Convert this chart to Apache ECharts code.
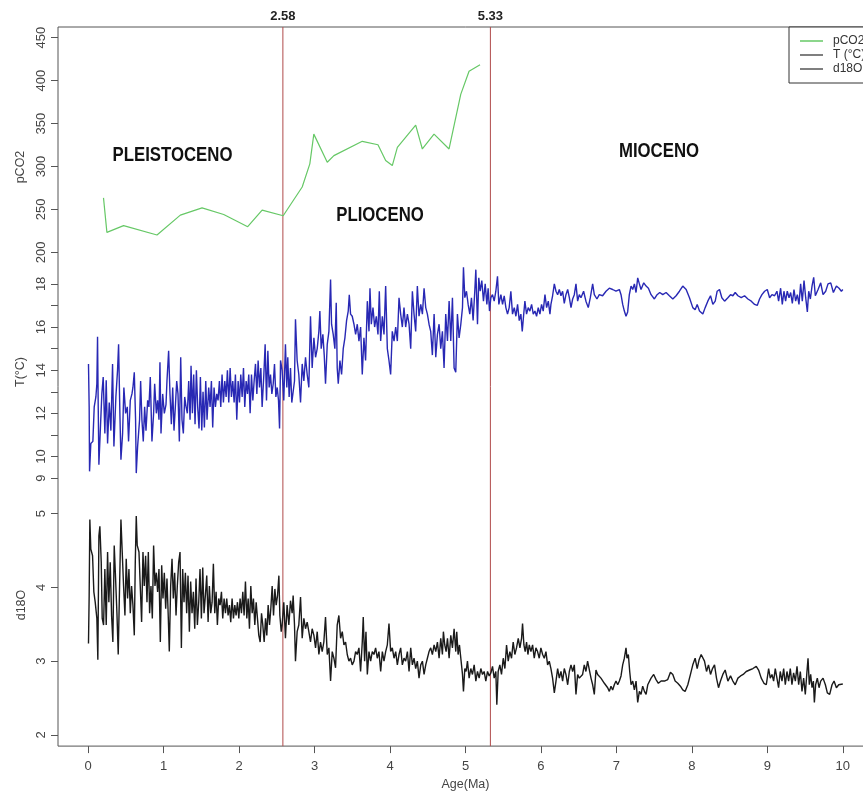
<!DOCTYPE html>
<html><head><meta charset="utf-8">
<script src="https://cdn.jsdelivr.net/npm/echarts@6/dist/echarts.min.js"></script>
<style>html,body{margin:0;padding:0;background:#fff;overflow:hidden;width:863px;height:796px}#c{width:873px;height:796px}</style>
</head><body><div id="c"></div>
<script>
// ---- data (age in Ma, value) ----
const pco2Data = [[0.203,263.5],[0.248,223.4],[0.469,231.2],[0.912,220.3],[1.221,243.4],[1.509,251.9],[1.796,244.2],[2.114,230.0],[2.305,249.2],[2.584,242.7],[2.836,276.2],[2.937,303.1],[2.990,337.7],[3.168,305.0],[3.256,312.7],[3.632,329.3],[3.840,325.3],[3.942,306.9],[4.030,301.1],[4.097,322.3],[4.340,348.1],[4.428,320.4],[4.583,337.7],[4.782,320.4],[4.937,383.9],[5.047,410.8],[5.193,418.5]];

const tempData = [[0.004,14.29],[0.013,12.3],[0.018,9.31],[0.035,10.6],[0.062,10.7],[0.080,12.3],[0.102,12.76],[0.115,13.37],[0.124,15.55],[0.133,12.3],[0.142,9.62],[0.159,11.07],[0.181,12.9],[0.199,13.68],[0.221,11.07],[0.239,13.53],[0.257,10.6],[0.279,12.5],[0.301,11.2],[0.323,14.29],[0.341,10.46],[0.367,12.76],[0.389,13.99],[0.403,15.2],[0.420,12.0],[0.434,9.85],[0.456,11.07],[0.473,13.2],[0.496,12.0],[0.518,12.3],[0.535,10.7],[0.558,12.6],[0.580,12.9],[0.593,13.2],[0.611,13.9],[0.628,11.7],[0.637,9.23],[0.655,10.46],[0.681,11.7],[0.695,13.5],[0.712,11.7],[0.730,10.7],[0.748,12.3],[0.766,11.2],[0.788,12.6],[0.805,12.3],[0.823,13.68],[0.845,10.7],[0.867,12.0],[0.881,13.37],[0.903,12.0],[0.920,12.6],[0.938,11.7],[0.951,14.37],[0.965,11.07],[0.987,12.9],[1.009,12.0],[1.031,12.4],[1.044,13.5],[1.066,14.9],[1.084,12.9],[1.102,11.5],[1.120,13.2],[1.137,11.2],[1.155,12.3],[1.173,13.5],[1.190,12.9],[1.208,10.7],[1.226,14.6],[1.243,11.7],[1.261,11.07],[1.279,12.76],[1.297,12.3],[1.314,12.0],[1.332,13.5],[1.350,11.7],[1.363,14.2],[1.381,12.0],[1.398,13.8],[1.416,11.5],[1.434,14.0],[1.451,12.3],[1.469,11.3],[1.487,13.68],[1.505,11.2],[1.522,13.0],[1.540,11.35],[1.558,13.5],[1.575,11.7],[1.597,13.2],[1.615,12.3],[1.633,13.5],[1.650,11.35],[1.668,13.2],[1.686,12.3],[1.704,12.9],[1.721,12.6],[1.739,13.5],[1.757,12.3],[1.774,13.8],[1.792,12.5],[1.810,13.5],[1.828,12.76],[1.845,14.0],[1.863,12.5],[1.881,14.1],[1.898,12.76],[1.916,13.5],[1.934,12.5],[1.951,13.8],[1.969,11.7],[1.987,13.5],[2.005,12.5],[2.022,13.8],[2.040,12.76],[2.058,14.1],[2.075,12.3],[2.093,13.5],[2.111,12.9],[2.128,13.8],[2.146,12.0],[2.164,13.8],[2.182,12.6],[2.199,13.5],[2.217,14.29],[2.235,12.9],[2.252,14.45],[2.270,13.2],[2.288,14.1],[2.305,12.3],[2.328,13.8],[2.345,15.2],[2.363,12.6],[2.381,14.9],[2.398,13.2],[2.416,13.8],[2.434,12.9],[2.452,13.37],[2.469,14.29],[2.487,12.76],[2.505,13.2],[2.522,12.6],[2.536,11.3],[2.549,14.45],
[2.570,13.99],[2.592,12.6],[2.614,15.2],[2.632,13.2],[2.645,14.6],[2.663,12.76],[2.681,14.1],[2.698,12.5],[2.716,13.0],[2.734,13.5],[2.747,16.36],[2.769,14.45],[2.791,13.8],[2.814,12.5],[2.836,14.29],[2.858,13.5],[2.880,14.6],[2.902,13.8],[2.924,13.2],[2.946,16.5],[2.968,14.1],[2.991,15.5],[3.013,14.6],[3.035,15.0],[3.057,15.8],[3.070,16.74],[3.088,15.0],[3.110,15.66],[3.128,14.7],[3.145,13.37],[3.168,15.2],[3.190,15.8],[3.212,18.2],[3.225,16.13],[3.247,15.66],[3.269,15.0],[3.287,17.13],[3.300,14.1],[3.314,13.37],[3.336,14.45],[3.358,13.8],[3.380,15.0],[3.402,15.5],[3.424,16.3],[3.446,16.74],[3.460,17.5],[3.477,16.6],[3.499,16.5],[3.522,16.13],[3.544,15.66],[3.566,16.13],[3.588,15.35],[3.610,16.0],[3.632,13.8],[3.654,15.5],[3.676,14.45],[3.699,17.2],[3.721,15.8],[3.734,17.8],[3.752,16.13],[3.774,16.9],[3.796,16.0],[3.818,16.5],[3.840,15.66],[3.858,17.66],[3.876,15.35],[3.898,16.5],[3.920,15.66],[3.942,17.9],[3.964,15.0],[3.986,14.45],[4.008,13.8],[4.030,15.8],[4.053,15.35],[4.075,16.0],[4.097,15.35],[4.119,17.36],[4.141,16.6],[4.163,16.0],[4.185,16.9],[4.207,16.0],[4.230,16.6],[4.252,16.13],[4.274,15.0],[4.296,17.66],[4.318,16.6],[4.340,15.8],[4.362,17.9],[4.384,16.5],[4.407,17.05],[4.429,16.6],[4.451,17.8],[4.473,16.9],[4.495,16.6],[4.517,16.13],[4.539,15.8],[4.561,14.7],[4.584,16.6],[4.606,14.6],[4.628,15.66],[4.650,16.13],[4.672,15.0],[4.694,15.8],[4.716,14.1],[4.738,16.6],[4.761,15.35],[4.783,17.2],[4.805,15.35],[4.827,17.36],[4.849,14.1],[4.871,13.9],[4.893,16.6],[4.915,15.5],[4.938,16.13],[4.960,16.9],[4.973,18.77],[4.991,17.36],[5.013,17.66],[5.035,17.05],[5.057,16.6],[5.079,17.36],[5.101,16.3],[5.123,17.66],[5.137,18.66],[5.159,16.13],[5.176,18.28],[5.194,17.66],[5.216,18.15],[5.238,17.2],[5.261,18.0],[5.283,17.05],[5.300,17.8],[5.318,16.74],[5.336,17.36],[5.358,17.5],[5.380,17.2],[5.402,17.66],[5.424,18.35],[5.442,17.05],[5.469,17.5],[5.491,17.05],[5.513,17.45],[5.535,16.9],[5.557,16.6],[5.579,16.9],[5.601,17.66],[5.623,16.6],[5.646,16.9],[5.668,16.5],[5.690,17.05],[5.712,16.3],[5.734,16.6],[5.752,15.8],[5.769,16.5],[5.787,17.2],[5.809,16.6],[5.831,16.9],[5.853,16.74],[5.876,17.05],[5.898,16.6],[5.920,16.74],[5.942,16.5],[5.964,16.9],[5.986,16.6],[6.008,17.05],[6.030,16.74],[6.053,17.5],[6.075,16.9],[6.097,17.2],[6.119,16.6],[6.132,17.05],[6.154,17.45],[6.177,18.0],[6.199,17.66],[6.221,17.5],[6.243,17.74],[6.265,17.45],[6.287,17.66],[6.309,17.1],[6.331,17.5],[6.354,17.74],[6.376,17.36],[6.398,16.9],[6.420,17.3],[6.442,17.5],[6.464,18.0],[6.486,17.2],[6.508,17.5],
[6.530,17.36],[6.565,17.66],[6.596,17.2],[6.627,16.9],[6.654,17.36],[6.685,18.0],[6.707,17.5],[6.742,17.3],[6.773,17.5],[6.817,17.45],[6.862,17.66],[6.906,17.8],[6.950,17.74],[6.994,17.66],[7.039,17.74],[7.061,17.5],[7.083,17.05],[7.105,16.74],[7.127,16.5],[7.149,16.7],[7.171,17.5],[7.194,17.9],[7.216,17.74],[7.238,18.0],[7.260,17.6],[7.282,18.28],[7.304,18.0],[7.326,17.74],[7.362,18.05],[7.393,17.9],[7.424,17.8],[7.459,17.5],[7.503,17.3],[7.539,17.5],[7.574,17.6],[7.614,17.5],[7.658,17.6],[7.702,17.45],[7.747,17.3],[7.791,17.45],[7.835,17.66],[7.879,17.9],[7.924,17.74],[7.968,17.36],[8.012,16.9],[8.043,16.8],[8.070,17.05],[8.101,16.74],[8.145,16.6],[8.176,16.9],[8.211,17.2],[8.247,17.45],[8.278,17.05],[8.309,17.2],[8.335,17.66],[8.366,17.74],[8.397,17.36],[8.433,17.2],[8.477,17.36],[8.512,17.5],[8.543,17.45],[8.574,17.6],[8.610,17.45],[8.654,17.36],[8.698,17.45],[8.742,17.3],[8.787,17.2],[8.831,17.05],[8.866,17.0],[8.897,17.3],[8.928,17.5],[8.964,17.66],[8.999,17.74],[9.030,17.36],[9.061,17.5],[9.096,17.45],[9.127,17.66],[9.149,17.2],[9.176,17.8],[9.198,17.05],[9.220,17.66],[9.242,17.2],[9.264,17.66],[9.287,17.36],[9.309,17.6],[9.331,17.1],[9.353,17.74],[9.375,17.2],[9.397,17.5],[9.419,17.05],[9.441,18.0],[9.463,17.2],[9.486,18.15],[9.508,17.36],[9.530,16.7],[9.548,17.66],[9.570,17.3],[9.592,17.9],[9.614,18.3],[9.636,17.45],[9.672,17.74],[9.707,18.05],[9.738,17.5],[9.773,17.66],[9.804,18.0],[9.840,18.05],[9.875,17.6],[9.915,17.9],[9.950,17.8],[9.981,17.66],[10.0,17.74]];

const d18oData = [[0.004,3.24],[0.013,3.89],[0.022,4.92],[0.035,4.52],[0.058,4.43],[0.075,3.94],[0.093,3.8],[0.115,3.58],[0.128,3.02],[0.142,4.7],[0.155,4.83],[0.173,4.34],[0.186,3.58],[0.204,3.49],[0.221,4.25],[0.239,3.49],[0.257,4.48],[0.274,3.8],[0.292,4.34],[0.310,3.62],[0.327,3.26],[0.345,4.57],[0.363,4.12],[0.381,3.65],[0.398,3.09],[0.416,4.02],[0.434,4.92],[0.451,4.48],[0.469,4.02],[0.487,3.62],[0.504,4.39],[0.522,3.85],[0.540,4.25],[0.558,3.65],[0.575,4.02],[0.593,3.76],[0.611,3.35],[0.624,4.34],[0.637,4.97],[0.650,4.57],[0.673,4.48],[0.690,4.02],[0.708,3.53],[0.726,4.48],[0.743,4.02],[0.761,4.43],[0.779,3.8],[0.797,4.48],[0.814,3.65],[0.832,4.02],[0.850,3.58],[0.867,4.57],[0.885,4.02],[0.903,4.2],[0.920,3.94],[0.938,4.25],[0.956,3.26],[0.974,4.3],[0.991,3.85],[1.009,4.2],[1.027,3.71],[1.044,4.12],[1.062,3.58],[1.075,3.13],[1.093,4.02],[1.111,4.39],[1.128,3.85],[1.146,4.2],[1.164,3.62],[1.181,4.02],[1.199,4.34],[1.217,4.48],[1.235,3.18],[1.252,4.25],[1.270,3.8],[1.288,4.2],[1.305,3.65],[1.323,4.16],[1.341,3.4],[1.358,4.08],[1.376,3.65],[1.394,3.94],[1.412,3.44],[1.429,4.12],[1.447,3.49],[1.465,3.8],[1.482,4.25],[1.500,3.58],[1.518,4.27],[1.535,3.65],[1.553,3.89],[1.571,4.16],[1.589,3.53],[1.606,4.02],[1.624,3.65],[1.642,3.8],[1.659,4.32],[1.677,3.65],[1.695,3.94],[1.712,3.49],[1.730,3.85],[1.748,3.76],[1.766,3.94],[1.783,3.58],[1.801,3.85],[1.819,3.65],[1.836,3.85],[1.854,3.62],[1.872,3.76],[1.889,3.53],[1.907,3.85],[1.925,3.58],[1.943,3.76],[1.960,3.62],[1.978,3.8],[1.996,3.58],[2.013,3.85],[2.031,3.65],[2.049,3.94],[2.066,3.62],[2.084,4.08],[2.102,3.58],[2.120,3.85],[2.137,3.44],[2.155,4.02],[2.173,3.65],[2.190,3.85],[2.208,3.49],[2.226,3.8],[2.243,3.58],[2.261,3.35],[2.279,3.26],[2.297,3.65],[2.314,3.49],[2.332,3.26],[2.350,3.58],[2.367,3.35],[2.385,3.76],[2.403,3.49],[2.420,3.71],[2.438,4.02],[2.456,3.62],[2.474,3.98],[2.491,3.76],[2.509,3.89],[2.527,4.16],[2.540,3.62],[2.558,3.4],
[2.570,3.49],[2.592,3.8],[2.614,3.31],[2.636,3.76],[2.659,3.49],[2.681,3.82],[2.703,3.65],[2.716,3.89],[2.734,3.49],[2.747,3.0],[2.769,3.4],[2.791,3.49],[2.814,3.87],[2.836,3.31],[2.858,3.58],[2.880,3.44],[2.902,3.53],[2.924,3.4],[2.946,3.26],[2.968,3.44],[2.991,3.35],[3.013,3.18],[3.035,3.4],[3.057,3.09],[3.079,3.26],[3.101,3.13],[3.123,3.26],[3.145,3.6],[3.168,3.09],[3.190,3.18],[3.212,2.73],[3.234,3.13],[3.256,3.04],[3.278,2.91],[3.300,3.49],[3.322,3.62],[3.345,3.31],[3.367,3.4],[3.389,3.22],[3.411,3.26],[3.433,3.09],[3.455,3.0],[3.477,3.04],[3.499,2.95],[3.522,3.0],[3.544,3.13],[3.566,3.09],[3.588,3.18],[3.610,2.86],[3.632,3.26],[3.645,3.6],[3.663,3.0],[3.681,3.4],[3.699,2.82],[3.721,3.13],[3.743,3.0],[3.765,3.13],[3.787,3.09],[3.809,3.18],[3.831,3.04],[3.853,3.13],[3.876,2.86],[3.898,3.13],[3.920,3.0],[3.942,3.13],[3.964,3.22],[3.986,3.51],[4.008,3.13],[4.030,3.18],[4.053,3.04],[4.075,3.13],[4.097,2.95],[4.119,3.09],[4.141,3.18],[4.163,2.95],[4.185,3.04],[4.207,3.0],[4.230,3.13],[4.252,2.86],[4.274,3.18],[4.296,2.95],[4.318,3.04],[4.340,2.9],[4.362,3.0],[4.384,2.77],[4.407,2.95],[4.429,3.0],[4.451,2.82],[4.473,2.95],[4.495,3.04],[4.517,3.13],[4.539,3.18],[4.561,3.09],[4.584,3.22],[4.606,3.13],[4.628,3.26],[4.650,3.04],[4.672,3.31],[4.694,3.09],[4.707,3.4],[4.725,3.22],[4.743,3.13],[4.761,3.31],[4.783,3.04],[4.805,3.35],[4.827,3.18],[4.849,3.44],[4.871,3.13],[4.884,3.4],[4.902,3.09],[4.920,3.22],[4.938,3.04],[4.960,2.82],[4.973,2.59],[4.991,2.9],[5.008,2.86],[5.026,3.0],[5.048,2.77],[5.070,2.9],[5.092,2.82],[5.115,2.95],[5.137,2.73],[5.159,2.86],[5.181,2.77],[5.203,2.9],[5.225,2.82],[5.247,2.86],[5.269,2.73],[5.292,2.86],[5.314,2.8],[5.336,2.84],[5.358,2.93],[5.380,2.77],[5.402,2.86],[5.415,2.41],[5.433,2.86],[5.455,2.95],[5.477,2.82],[5.500,3.04],[5.522,2.9],[5.544,3.22],[5.566,3.0],[5.588,3.13],[5.610,3.04],[5.632,3.26],[5.654,3.09],[5.676,3.18],[5.699,3.31],[5.721,3.18],[5.743,3.31],[5.756,3.51],[5.774,3.22],[5.791,3.13],[5.809,3.26],[5.827,3.09],[5.845,3.22],[5.867,3.13],[5.889,3.22],[5.911,3.04],[5.933,3.18],[5.955,3.13],[5.977,3.04],[5.999,3.18],[6.022,3.09],[6.044,3.04],[6.066,3.13],[6.088,2.95],[6.110,3.0],[6.132,2.9],[6.154,2.77],[6.177,2.57],[6.199,2.73],[6.221,2.9],[6.243,2.77],[6.265,2.86],[6.287,2.73],[6.309,2.9],[6.331,2.82],[6.354,2.68],[6.376,2.86],[6.398,2.95],[6.420,2.86],[6.442,2.95],[6.464,2.55],[6.486,2.82],[6.508,2.77],
[6.552,2.82],[6.574,2.95],[6.596,2.86],[6.618,3.0],[6.640,3.02],[6.663,2.77],[6.685,2.68],[6.707,2.55],[6.729,2.88],[6.751,2.82],[6.773,2.8],[6.795,2.77],[6.817,2.75],[6.840,2.7],[6.862,2.68],[6.884,2.64],[6.906,2.59],[6.928,2.66],[6.950,2.61],[6.972,2.68],[6.994,2.73],[7.017,2.68],[7.039,2.73],[7.061,2.8],[7.083,2.95],[7.105,3.04],[7.127,3.18],[7.140,3.04],[7.158,3.09],[7.176,2.86],[7.194,2.68],[7.216,2.73],[7.238,2.61],[7.260,2.73],[7.282,2.44],[7.304,2.59],[7.326,2.55],[7.348,2.66],[7.371,2.59],[7.393,2.55],[7.415,2.68],[7.459,2.77],[7.494,2.82],[7.525,2.75],[7.556,2.7],[7.592,2.73],[7.636,2.73],[7.680,2.75],[7.716,2.85],[7.747,2.82],[7.778,2.73],[7.813,2.7],[7.848,2.66],[7.879,2.61],[7.910,2.59],[7.946,2.68],[7.981,2.82],[8.012,2.95],[8.043,3.04],[8.070,2.9],[8.096,3.02],[8.123,3.09],[8.145,3.11],[8.167,3.0],[8.194,2.86],[8.220,2.95],[8.247,2.82],[8.273,2.9],[8.300,2.95],[8.326,2.77],[8.353,2.64],[8.379,2.73],[8.410,2.82],[8.441,2.88],[8.477,2.73],[8.512,2.8],[8.543,2.73],[8.574,2.68],[8.610,2.77],[8.645,2.8],[8.680,2.82],[8.720,2.86],[8.764,2.88],[8.809,2.9],[8.853,2.93],[8.884,2.88],[8.919,2.77],[8.955,2.7],[8.986,2.68],[9.017,2.9],[9.039,2.77],[9.061,2.82],[9.083,2.73],[9.105,2.9],[9.127,2.77],[9.149,2.64],[9.171,2.86],[9.194,2.73],[9.216,2.9],[9.238,2.68],[9.260,2.86],[9.282,2.73],[9.304,2.9],[9.326,2.68],[9.348,2.84],[9.371,2.73],[9.393,2.93],[9.415,2.68],[9.437,2.86],[9.459,2.59],[9.481,2.77],[9.503,2.55],[9.525,2.86],[9.539,3.04],[9.556,2.68],[9.574,2.82],[9.592,2.64],[9.610,2.73],[9.623,2.44],[9.640,2.68],[9.662,2.77],[9.685,2.64],[9.707,2.73],[9.738,2.77],[9.769,2.68],[9.795,2.57],[9.826,2.55],[9.857,2.68],[9.884,2.73],[9.915,2.64],[9.946,2.68],[9.972,2.66],[10.0,2.69]];

const boundaries = [2.58, 5.33];
const xTicks = [0,1,2,3,4,5,6,7,8,9,10];
const pco2Ticks = [200,250,300,350,400,450];
const tempTicks = [9,10,11,12,13,14,15,16,17,18];
const tempLabels = [9,10,12,14,16,18];
const d18oTicks = [2,3,4,5];
const eraNames = ['PLEISTOCENO','PLIOCENO','MIOCENO'];
const seriesNames = ['pCO2','T (°C)','d18O'];
const axisTitles = ['pCO2','T(°C)','d18O'];

// ---- styling ----
const FONT = '"Liberation Sans", Arial, sans-serif';
const AXC = '#555';
const LBL = '#444';
const C_PCO2 = '#66c866';
const C_T = '#2828b4';
const C_D = '#1a1a1a';
const C_RED = '#b04a4a';

function yAx(min, max, ticks, labels) {
  return {
    type: 'value', position: 'left', offset: 0, min: min, max: max,
    axisLine: {show: false, onZero: false}, splitLine: {show: false},
    axisTick: {show: true, length: 7, customValues: ticks, lineStyle: {color: AXC}},
    axisLabel: {show: true, customValues: labels, rotate: 90, margin: 10,
      fontSize: 13, color: LBL, fontFamily: FONT}
  };
}

const chart = echarts.init(document.getElementById('c'), null, {renderer: 'canvas'});
const option = {
  animation: false,
  backgroundColor: '#fff',
  grid: {left: 58, top: 27, right: 0, height: 725, show: true,
    borderColor: AXC, borderWidth: 1, backgroundColor: 'transparent'},
  xAxis: {
    type: 'value', min: -0.4, max: 10.4,
    axisLine: {show: false, onZero: false}, splitLine: {show: false},
    axisTick: {show: true, length: 7, customValues: xTicks, lineStyle: {color: AXC}},
    axisLabel: {customValues: xTicks, margin: 14, fontSize: 13, color: LBL, fontFamily: FONT},
    name: 'Age(Ma)', nameLocation: 'middle', nameGap: 29,
    nameTextStyle: {fontSize: 12.5, color: LBL, fontFamily: FONT}
  },
  yAxis: [
    yAx(-374.45, 462.35, pco2Ticks, pco2Ticks),
    yAx(-3.425, 29.908, tempTicks, tempLabels),
    yAx(1.848, 11.6016, d18oTicks, d18oTicks)
  ],
  legend: {
    left: 789, top: 27, orient: 'vertical', icon: 'rect',
    itemWidth: 23, itemHeight: 1.5, itemGap: 2,
    padding: [8, 8, 8, 11], borderColor: '#333', borderWidth: 1, borderRadius: 0,
    backgroundColor: '#fff',
    textStyle: {fontSize: 12, color: '#333', fontFamily: FONT, padding: [0, 0, 0, 5]},
    data: [
      {name: seriesNames[0], itemStyle: {color: C_PCO2}},
      {name: seriesNames[1], itemStyle: {color: '#555'}},
      {name: seriesNames[2], itemStyle: {color: '#555'}}
    ]
  },
  series: [
    {name: seriesNames[0], type: 'line', yAxisIndex: 0, data: pco2Data,
      showSymbol: false, symbol: 'none', lineStyle: {color: C_PCO2, width: 1.2},
      itemStyle: {color: C_PCO2}},
    {name: seriesNames[1], type: 'line', yAxisIndex: 1, data: tempData,
      showSymbol: false, symbol: 'none', lineStyle: {color: C_T, width: 1.4},
      itemStyle: {color: C_T}},
    {name: seriesNames[2], type: 'line', yAxisIndex: 2, data: d18oData,
      showSymbol: false, symbol: 'none', lineStyle: {color: C_D, width: 1.4},
      itemStyle: {color: C_D}},
    {
      name: 'boundaries', type: 'custom', yAxisIndex: 2, clip: false, silent: true,
      data: boundaries.map(function (b) { return [b, 2]; }),
      encode: {x: 0, y: 1},
      renderItem: function (params, api) {
        const cs = params.coordSys;
        const v = api.value(0);
        const px = api.coord([v, 2])[0];
        return {
          type: 'group',
          children: [
            {type: 'line', shape: {x1: px, y1: cs.y, x2: px, y2: cs.y + cs.height},
              style: {stroke: C_RED, lineWidth: 1}},
            {type: 'text', x: px, y: cs.y - 4,
              style: {text: String(v), fill: '#222', align: 'center', verticalAlign: 'bottom',
                font: 'bold 13px ' + FONT}}
          ]
        };
      }
    }
  ],
  graphic: [
    {type: 'text', x: 21, y: 167, rotation: Math.PI / 2,
      style: {text: axisTitles[0], font: '12.5px ' + FONT, fill: LBL, align: 'center', verticalAlign: 'middle'}},
    {type: 'text', x: 21, y: 372, rotation: Math.PI / 2,
      style: {text: axisTitles[1], font: '12.5px ' + FONT, fill: LBL, align: 'center', verticalAlign: 'middle'}},
    {type: 'text', x: 22, y: 605, rotation: Math.PI / 2,
      style: {text: axisTitles[2], font: '12.5px ' + FONT, fill: LBL, align: 'center', verticalAlign: 'middle'}},
    {type: 'text', x: 172.5, y: 156, scaleX: 0.86,
      style: {text: eraNames[0], font: 'bold 19.5px ' + FONT, fill: '#111', align: 'center', verticalAlign: 'middle'}},
    {type: 'text', x: 380, y: 216, scaleX: 0.86,
      style: {text: eraNames[1], font: 'bold 19.5px ' + FONT, fill: '#111', align: 'center', verticalAlign: 'middle'}},
    {type: 'text', x: 659, y: 152, scaleX: 0.86,
      style: {text: eraNames[2], font: 'bold 19.5px ' + FONT, fill: '#111', align: 'center', verticalAlign: 'middle'}}
  ]
};
chart.setOption(option);
</script>
</body></html>
